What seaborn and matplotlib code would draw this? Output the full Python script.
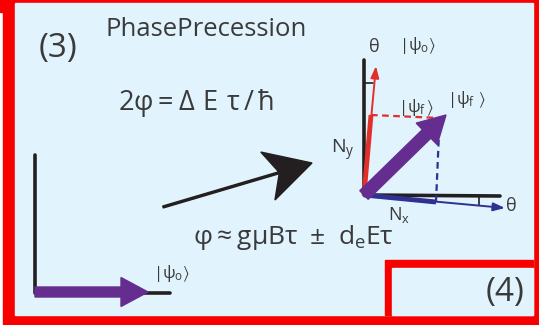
import matplotlib
matplotlib.use("Agg")
import matplotlib.pyplot as plt
import seaborn as sns
import numpy as np
import pandas as pd

# ---- diagram data (pixel coordinates of the 539x325 picture) ----
left_axis_x = [35, 35, 170]
left_axis_y = [155, 293, 293]
psi0_start = [35, 292]
psi0_end = [148, 292]

trans_start = [163, 207]
trans_end = [312, 163]

origin = [364, 195]
vert_axis_top = [364, 60]
horiz_axis_end = [500, 196]
red_tip = [376, 66]
red_proj = [371, 115]
red_dash_end = [440, 118]
blue_tip = [505, 208]
blue_proj = [436, 202]
blue_dash_end = [439, 133]
purple_tip = [446, 115]
tick_top_x = [364, 373]
tick_top_y = [83, 83]
tick_right_x = [479, 479]
tick_right_y = [196, 205]

labels = {
    "(3)": (58, 49),
    "(4)": (505, 292),
}

bg = "#E1F3FC"
red_frame = "#F80000"
ink = "#231F20"
txt = "#3A3A3A"
red = "#E1302B"
blue = "#2E3192"
purple = "#662D91"

sns.set_theme(style="white")
plt.rcParams["font.family"] = ["Open Sans", "DejaVu Sans"]
plt.rcParams["mathtext.fontset"] = "custom"
plt.rcParams["mathtext.rm"] = "Open Sans"
plt.rcParams["mathtext.it"] = "Open Sans"
plt.rcParams["mathtext.fallback"] = "stixsans"

fig = plt.figure(figsize=(5.39, 3.25), dpi=100)
fig.patch.set_facecolor("white")
ax = fig.add_axes([0, 0, 1, 1])
ax.set_xlim(0, 539)
ax.set_ylim(325, 0)
ax.axis("off")

# frame
ax.add_patch(plt.Rectangle((3, 0), 536, 325, color=red_frame, zorder=0))
ax.add_patch(plt.Rectangle((0, 0), 3, 12, color=red_frame, zorder=0))
ax.add_patch(plt.Rectangle((15, 3), 518, 312, color=bg, zorder=0))
ax.add_patch(plt.Rectangle((385, 260), 148, 55, color=red_frame, zorder=0))
ax.add_patch(plt.Rectangle((392, 268), 141, 47, color=bg, zorder=0))


def seg(xs, ys, **kw):
    sns.lineplot(x=xs, y=ys, sort=False, estimator=None, ax=ax, **kw)


# left frame: initial state
seg(left_axis_x, left_axis_y, color=ink, lw=2.6)
ax.arrow(psi0_start[0], psi0_start[1], psi0_end[0] - psi0_start[0], 0,
         width=10, head_width=29, head_length=27, length_includes_head=True,
         color=purple, zorder=3)

# big transition arrow
ax.arrow(trans_start[0], trans_start[1], trans_end[0] - trans_start[0], trans_end[1] - trans_start[1],
         width=2, head_width=50, head_length=46, overhang=0.25,
         length_includes_head=True, color=ink, zorder=3)

# right frame: precessed state
seg([vert_axis_top[0], origin[0], horiz_axis_end[0]],
    [vert_axis_top[1], origin[1], horiz_axis_end[1]], color=ink, lw=2.6)
seg(tick_top_x, tick_top_y, color=ink, lw=1.2)
seg(tick_right_x, tick_right_y, color=ink, lw=1.2)

# dashed projections
ax.plot([red_proj[0], red_dash_end[0]], [red_proj[1], red_dash_end[1]],
        color=red, lw=1.6, ls=(0, (3, 2)), zorder=3)
ax.plot([blue_proj[0], blue_dash_end[0]], [blue_proj[1], blue_dash_end[1]],
        color=blue, lw=1.6, ls=(0, (3, 2)), zorder=3)

# thin component arrows
for tip, col in [(red_tip, red), (blue_tip, blue)]:
    ax.annotate("", xy=tip, xytext=origin,
                arrowprops=dict(arrowstyle="-|>,head_length=0.7,head_width=0.25",
                                color=col, lw=1.4, shrinkA=0, shrinkB=0,
                                mutation_scale=10), zorder=4)
ax.plot([origin[0], red_proj[0]], [origin[1], red_proj[1]], color=red, lw=3.5, zorder=4,
        solid_capstyle="butt")
ax.plot([origin[0], blue_proj[0]], [origin[1], blue_proj[1]], color=blue, lw=3.5, zorder=4,
        solid_capstyle="butt")

# purple final state
ax.arrow(origin[0], origin[1], purple_tip[0] - origin[0], purple_tip[1] - origin[1],
         width=12, head_width=30, head_length=27, length_includes_head=True,
         color=purple, zorder=5)

# texts
for s, (x, y) in labels.items():
    ax.text(x, y, s, fontsize=24, color=txt, ha="center", va="center")
ax.text(106, 29, "PhasePrecession", fontsize=18.5, color=txt, ha="left", va="center")
ax.text(118, 103, r"$2\varphi = \Delta\ E\ \tau\,/\,\hbar$", fontsize=19.5, color=txt,
        ha="left", va="center")
ax.text(193, 237, r"$\varphi \approx g\mu B\tau\ \pm\ d_e E\tau$", fontsize=19, color=txt,
        ha="left", va="center")
ax.text(171, 273, r"$|\psi_{\rm o}\rangle$", fontsize=12, color=txt, ha="center", va="center")
ax.text(374, 47, r"$\theta$", fontsize=13, color=txt, ha="center", va="center")
ax.text(417, 45, r"$|\psi_{\rm o}\rangle$", fontsize=12, color=txt, ha="center", va="center")
ax.text(416, 107, r"$|\psi_{\rm f}\,\rangle$", fontsize=12, color=txt, ha="center", va="center")
ax.text(466, 99, r"$|\psi_{\rm f}\ \rangle$", fontsize=12, color=txt, ha="center", va="center")
ax.text(343, 150, r"$N_y$", fontsize=14, color=txt, ha="center", va="center")
ax.text(399, 215, r"$N_x$", fontsize=13, color=txt, ha="center", va="center")
ax.text(511, 206, r"$\theta$", fontsize=13, color=txt, ha="center", va="center")

fig.savefig("out.png", dpi=100, facecolor=fig.get_facecolor())
